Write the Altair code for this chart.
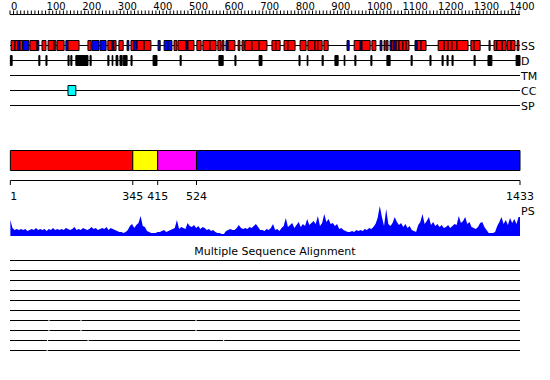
import altair as alt
import pandas as pd

SEQ_LEN = 1433

# top ruler
ruler_ticks = list(range(0, 1431, 10))
ruler_labels = list(range(0, 1401, 100))

# secondary structure (H = helix red, E = strand blue)
ss_start = [3, 14, 22, 28, 36, 56, 76, 90, 107, 124, 132, 157, 163, 219, 230, 253,
            275, 287, 292, 306, 329, 340, 348, 357, 377, 416, 433, 444, 461, 472, 495,
            500, 525, 542, 562, 584, 596, 607, 613, 641, 652, 660, 680, 700, 736, 747,
            770, 781, 815, 837, 857, 865, 882, 947, 967, 984, 989, 1017, 1040, 1051,
            1057, 1068, 1073, 1079, 1085, 1093, 1104, 1113, 1138, 1144, 1155, 1203,
            1220, 1231, 1242, 1256, 1295, 1304, 1346, 1360, 1368, 1383, 1397, 1408, 1425]
ss_end = [14, 22, 28, 36, 53, 76, 81, 101, 124, 129, 152, 163, 194, 228, 250, 270,
          287, 292, 298, 318, 334, 348, 357, 377, 396, 422, 444, 455, 469, 495, 500,
          517, 537, 562, 579, 593, 601, 613, 632, 646, 658, 680, 700, 722, 747, 759,
          781, 801, 832, 857, 865, 877, 894, 953, 984, 989, 1012, 1028, 1045, 1054,
          1062, 1073, 1079, 1085, 1093, 1104, 1113, 1121, 1144, 1155, 1169, 1220,
          1231, 1242, 1256, 1287, 1304, 1321, 1349, 1368, 1383, 1394, 1408, 1419, 1430]
ss_type = ["H", "H", "E", "H", "E", "H", "E", "H", "H", "H", "H", "E", "H", "H", "E", "E",
           "H", "E", "H", "H", "E", "H", "E", "H", "H", "E", "E", "E", "H", "H", "E",
           "H", "H", "H", "H", "H", "H", "E", "H", "H", "H", "H", "H", "H", "H", "H",
           "H", "H", "H", "H", "H", "H", "H", "E", "H", "E", "H", "H", "E", "H",
           "H", "E", "H", "E", "H", "H", "H", "H", "E", "H", "H", "H",
           "H", "H", "H", "H", "H", "H", "H", "H", "H", "H", "H", "H", "H"]

# disorder
dis_start = [1, 81, 101, 163, 171, 185, 225, 275, 287, 298, 309, 318, 340, 402, 478,
             587, 632, 700, 812, 835, 877, 913, 939, 969, 1014, 1059, 1127, 1180, 1214,
             1228, 1242, 1304, 1343, 1422]
dis_end = [6, 84, 104, 166, 174, 219, 228, 278, 289, 303, 315, 329, 343, 413, 481,
           599, 635, 708, 815, 837, 880, 922, 941, 972, 1017, 1068, 1130, 1183, 1217,
           1231, 1245, 1307, 1354, 1433]

# coiled coil
cc_start = [163]
cc_end = [185]

# domains
dom_start = [1, 345, 415, 524]
dom_end = [345, 415, 524, 1433]
dom_color = ["#ff0000", "#ffff00", "#ff00ff", "#0000ff"]
dom_ticks = [1, 345, 415, 524, 1433]

# PS profile
ps_step = 6
ps_values = [16, 8, 6, 7, 6,
             7, 6, 7, 5, 6, 7, 6, 8, 6, 7,
             6, 7, 5, 7, 6, 8, 6, 7, 6,
             7, 6, 8, 7, 6, 7, 9, 6, 7,
             6, 8, 7, 6, 7, 9, 7, 8, 6, 7,
             8, 7, 9, 6, 8, 7, 6, 5, 4,
             4, 3, 4, 6, 10,
             12, 8, 11, 13, 20, 10, 9,
             5, 4, 3, 3,
             3, 4, 4, 5, 6, 4, 5, 6,
             7, 8, 16, 7,
             9, 8, 7, 13,
             10, 9, 11, 8, 10,
             7, 9, 8, 6, 7, 5, 6,
             4, 3, 3, 2, 2,
             5, 6, 7, 6,
             6, 8, 11, 8, 7, 8,
             7, 9, 8, 10, 12, 9, 6,
             6, 5, 7, 6, 8, 12, 6, 7, 5, 8, 10, 18, 9, 11, 13, 8, 11, 14, 9, 12,
             10, 17, 11, 13, 15, 12, 20, 10, 13, 22, 14, 17, 12, 13, 10, 12, 7, 8,
             6, 5, 4, 4, 5, 4, 6, 5, 6, 5, 7, 6, 8, 7, 9,
             12, 18, 30, 19, 10, 27, 12,
             10, 13, 19, 14, 11, 13, 9, 12, 8, 10,
             6, 5, 4,
             11, 14, 22, 12, 15, 19, 11, 14, 10, 12, 9, 11, 8,
             9, 11, 8, 10, 12, 11,
             20, 13, 15, 19, 12, 14, 9,
             8, 7, 9, 13, 14, 9, 6, 3, 3, 3, 4,
             10, 14, 19, 12, 16, 11, 18, 13, 17, 12, 19,
             19]
ps_pos = [1 + ps_step * i for i in range(len(ps_values) - 1)] + [SEQ_LEN]

# multiple sequence alignment rows: gaps per row
msa_gaps = [[], [], [], [], [], [],
            [(108, 111), (198, 201), (521, 524)],
            [(108, 111), (198, 201), (521, 524)],
            [(104, 107), (218, 221), (599, 602)],
            [(103, 106)]]

FONT = "DejaVu Sans"
xs = alt.Scale(domain=[0, SEQ_LEN], nice=False, zero=False)


def X(f):
    return alt.X(f + ":Q", scale=xs, axis=None)


layers = []

# ---- top ruler
ruler_line = pd.DataFrame({"s": [0], "e": [SEQ_LEN]})
layers.append(alt.Chart(ruler_line).mark_rule(color="black", strokeWidth=1).encode(
    x=X("s"), x2="e", y=alt.value(14.5)))
layers.append(alt.Chart(pd.DataFrame({"t": ruler_ticks})).mark_rule(color="black", strokeWidth=1).encode(
    x=X("t"), y=alt.value(10.5), y2=alt.value(14.5)))
layers.append(alt.Chart(pd.DataFrame({"t": ruler_labels, "lab": [str(v) for v in ruler_labels]})).mark_text(
    align="left", baseline="alphabetic", dx=1, fontSize=10, font=FONT, color="black").encode(
    x=X("t"), y=alt.value(9.5), text="lab:N"))

# ---- track lines
track_names = ["SS", "D", "TM", "CC", "SP"]
track_y = [45.5, 60.5, 75.5, 90.5, 105.5]
for name, ty in zip(track_names, track_y):
    layers.append(alt.Chart(pd.DataFrame({"s": [0], "e": [SEQ_LEN]})).mark_rule(
        color="black", strokeWidth=1).encode(x=X("s"), x2="e", y=alt.value(ty)))
    layers.append(alt.Chart(pd.DataFrame({"p": [SEQ_LEN], "lab": [name]})).mark_text(
        align="left", baseline="alphabetic", dx=1, fontSize=11, font=FONT, color="black").encode(
        x=X("p"), y=alt.value(ty + 4.5), text="lab:N"))

# SS boxes
ss_df = pd.DataFrame({"s": ss_start, "e": ss_end, "t": ss_type})
layers.append(alt.Chart(ss_df).mark_rect(stroke="black", strokeWidth=1).encode(
    x=X("s"), x2="e", y=alt.value(40.5), y2=alt.value(50.5),
    fill=alt.Fill("t:N", scale=alt.Scale(domain=["H", "E"], range=["#ff0000", "#0000ff"]), legend=None)))

# disorder bars
dis_df = pd.DataFrame({"s": dis_start, "e": dis_end})
layers.append(alt.Chart(dis_df).mark_rect(fill="black", stroke="black", strokeWidth=1).encode(
    x=X("s"), x2="e", y=alt.value(55.5), y2=alt.value(65.5)))

# coiled coil
cc_df = pd.DataFrame({"s": cc_start, "e": cc_end})
layers.append(alt.Chart(cc_df).mark_rect(fill="#00ffff", stroke="black", strokeWidth=1).encode(
    x=X("s"), x2="e", y=alt.value(85.5), y2=alt.value(95.5)))

# ---- domain bar
dom_df = pd.DataFrame({"s": dom_start, "e": dom_end, "c": dom_color})
layers.append(alt.Chart(dom_df).mark_rect(stroke="black", strokeWidth=1).encode(
    x=X("s"), x2="e", y=alt.value(150.5), y2=alt.value(170.5),
    fill=alt.Fill("c:N", scale=None)))

# domain axis
layers.append(alt.Chart(pd.DataFrame({"s": [dom_ticks[0]], "e": [dom_ticks[-1]]})).mark_rule(
    color="black", strokeWidth=1).encode(x=X("s"), x2="e", y=alt.value(180.5)))
tick_df = pd.DataFrame({"t": dom_ticks, "lab": [str(v) for v in dom_ticks]})
layers.append(alt.Chart(tick_df).mark_rule(color="black", strokeWidth=1).encode(
    x=X("t"), y=alt.value(180.5), y2=alt.value(185)))
layers.append(alt.Chart(tick_df.iloc[:1]).mark_text(
    align="left", baseline="alphabetic", fontSize=11, font=FONT, color="black").encode(
    x=X("t"), y=alt.value(200), text="lab:N"))
layers.append(alt.Chart(tick_df.iloc[1:]).mark_text(
    align="center", baseline="alphabetic", fontSize=11, font=FONT, color="black").encode(
    x=X("t"), y=alt.value(200), text="lab:N"))

# ---- PS profile
ps_df = pd.DataFrame({"p": ps_pos, "v": ps_values})
layers.append(alt.Chart(ps_df).mark_area(color="#0000ff", interpolate="linear").encode(
    x=X("p"), y=alt.Y("v:Q", scale=alt.Scale(domain=[0, 30], range=[236, 206]), axis=None)))
layers.append(alt.Chart(pd.DataFrame({"p": [SEQ_LEN], "lab": ["PS"]})).mark_text(
    align="left", baseline="alphabetic", dx=1, fontSize=11, font=FONT, color="black").encode(
    x=X("p"), y=alt.value(215), text="lab:N"))

# ---- MSA
layers.append(alt.Chart(pd.DataFrame({"lab": ["Multiple Sequence Alignment"]})).mark_text(
    align="center", baseline="alphabetic", fontSize=11, font=FONT, color="black").encode(
    x=alt.value(265), y=alt.value(255), text="lab:N"))
for k, gaps in enumerate(msa_gaps):
    starts = [0] + [g[1] for g in gaps]
    ends = [g[0] for g in gaps] + [SEQ_LEN]
    layers.append(alt.Chart(pd.DataFrame({"s": starts, "e": ends})).mark_rule(
        color="black", strokeWidth=1).encode(x=X("s"), x2="e", y=alt.value(260.5 + 10 * k)))

chart = alt.layer(*layers).properties(
    width=510, height=380,
    padding={"left": 10, "top": 0, "right": 30, "bottom": 0},
    autosize=alt.AutoSizeParams(type="none"),
    background="white",
).configure_view(stroke=None)

chart.save("out.html", embed_options={"renderer": "svg", "actions": False})
